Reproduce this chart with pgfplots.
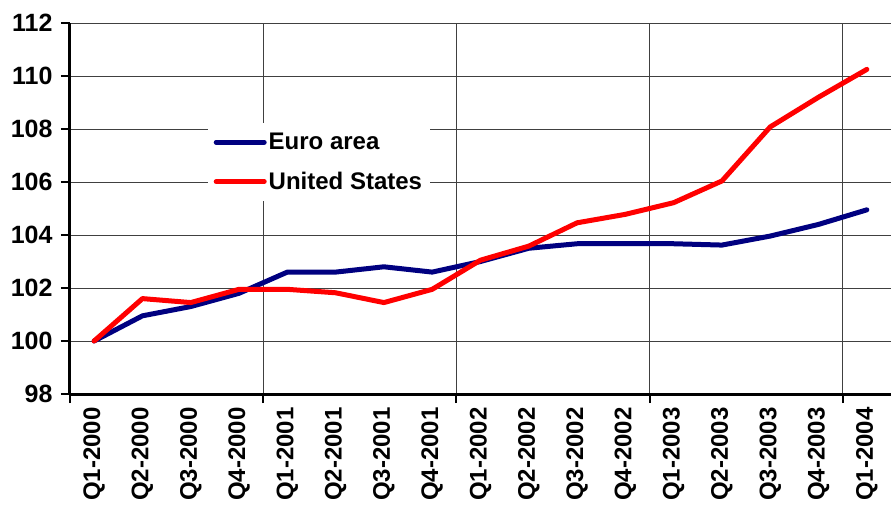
\documentclass[border=0pt]{standalone}
\usepackage{fontspec}
\setmainfont{Liberation Sans}
\usepackage{pgfplots}
\pgfplotsset{compat=1.18}
\definecolor{euro}{RGB}{0,0,128}
\definecolor{usred}{RGB}{255,0,0}

\begin{document}
\begin{tikzpicture}
\begin{axis}[
  scale only axis, width=821pt, height=371pt,
  xmin=-0.5, xmax=16.5, ymin=98, ymax=112,
  axis x line*=bottom, axis y line*=left,
  axis line style={line width=3pt, -},
  ytick={98,100,...,112},
  xtick={-0.5,3.5,7.5,11.5,15.5}, xticklabels={},
  extra x ticks={0,...,16},
  extra x tick labels={Q1-2000,Q2-2000,Q3-2000,Q4-2000,Q1-2001,Q2-2001,Q3-2001,Q4-2001,Q1-2002,Q2-2002,Q3-2002,Q4-2002,Q1-2003,Q2-2003,Q3-2003,Q4-2003,Q1-2004},
  extra x tick style={grid=none, major tick length=0pt,
    tick label style={yshift=-10pt, rotate=90, anchor=east,
      font=\fontsize{24}{28}\selectfont\bfseries}},
  xmajorgrids, ymajorgrids,
  major grid style={black!75, line width=0.8pt},
  tick align=outside, major tick length=9pt,
  tick style={black, line width=2pt},
  tick label style={font=\fontsize{25}{29}\selectfont\bfseries},
  yticklabel style={xshift=-5pt},
  /pgf/number format/assume math mode=true,
  legend cell align=left,
  legend style={at={(rel axis cs:0.1675,0.7305)}, anchor=north west,
    draw=none, fill=white, inner xsep=6pt, inner ysep=8pt,
    row sep=17pt, font=\fontsize{24}{28}\selectfont\bfseries},
  legend image code/.code={\draw[#1, line cap=round] (0pt,0pt) -- (48pt,0pt);},
]
\addplot[euro, line width=5pt, line join=round, line cap=round] coordinates {
  (0,100) (1,100.95) (2,101.3) (3,101.8) (4,102.6) (5,102.6) (6,102.8) (7,102.6)
  (8,103.0) (9,103.5) (10,103.67) (11,103.67) (12,103.67) (13,103.62) (14,103.96)
  (15,104.4) (16,104.95)};
\addlegendentry{Euro area}
\addplot[usred, line width=5pt, line join=round, line cap=round] coordinates {
  (0,100) (1,101.6) (2,101.45) (3,101.95) (4,101.95) (5,101.82) (6,101.45) (7,101.95)
  (8,103.05) (9,103.58) (10,104.46) (11,104.78) (12,105.22) (13,106.04) (14,108.08)
  (15,109.2) (16,110.25)};
\addlegendentry{United States}
\end{axis}
\pgfresetboundingbox
\useasboundingbox (-70pt,-112pt) rectangle (821pt,394pt);
\end{tikzpicture}
\end{document}
